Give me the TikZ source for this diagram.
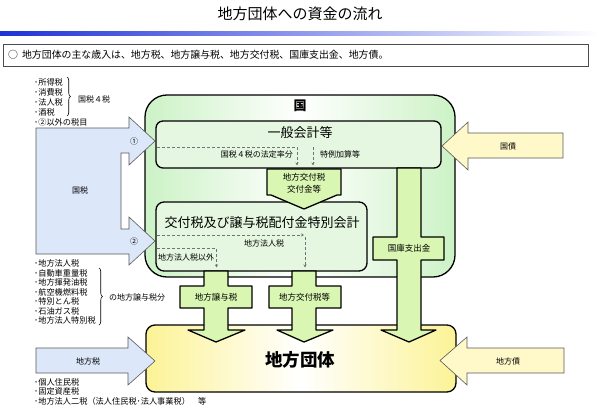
\documentclass[tikz,border=0pt]{standalone}
\usepackage{fontspec}
\setmainfont{Noto Sans CJK JP}
\usetikzlibrary{decorations.pathreplacing,arrows.meta}
\definecolor{bluefill}{RGB}{220,232,250}
\definecolor{greenarrow}{RGB}{217,246,178}
\definecolor{innerbox}{RGB}{229,247,224}
\definecolor{outergreen}{RGB}{204,242,198}
\definecolor{yellowfill}{RGB}{252,243,150}
\definecolor{yellowarrow}{RGB}{255,248,200}
\definecolor{titleblue}{RGB}{30,50,215}
\begin{document}
\begin{tikzpicture}[x=1pt,y=-1pt,
  outline/.style={draw=black,line width=1.3pt,line join=round},
  thinline/.style={draw=black!65,line width=0.6pt,line join=miter},
  lbl/.style={font=\fontsize{8}{9}\selectfont,inner sep=0pt},
  arrlbl/.style={font=\fontsize{8.5}{10}\selectfont,inner sep=0pt},
  bigtxt/.style={font=\fontsize{13}{15}\selectfont,inner sep=0pt},
  listitem/.style={font=\fontsize{8.2}{9}\selectfont,inner sep=0pt,anchor=west},
  dflow/.style={densely dashed,draw=black!55,line width=0.5pt,-{Stealth[length=3pt,width=3pt]}},
  bracestyle/.style={decorate,decoration={brace,amplitude=3.5pt},draw=black,line width=0.6pt},
  ]
\useasboundingbox (0,0) rectangle (599,415);

% title
\node[font=\fontsize{15}{17}\selectfont,inner sep=0pt] (title) at (300,14) {地方団体への資金の流れ};
\shade[left color=titleblue,right color=white] (0,31) rectangle (599,35);
\draw[black!70,line width=0.8pt] (3,44) rectangle (588,66);
\node[anchor=west,font=\fontsize{9.9}{11}\selectfont,inner sep=0pt] (summary) at (8,55) {○\hspace{4pt}地方団体の主な歳入は、地方税、地方譲与税、地方交付税、国庫支出金、地方債。};

% outer box 国
\draw[outline,left color=outergreen,right color=outergreen,middle color=white,rounded corners=22pt] (145,95) rectangle (455,277);
\node[font=\fontsize{13}{15}\selectfont\bfseries,inner sep=0pt] (kuni) at (300,106) {国};

% 国税 arrow
\draw[thinline,fill=bluefill] (36,128) -- (129,128) -- (129,117) -- (155,141) -- (129,165) -- (129,153) -- (121,153) -- (121,229) -- (129,229) -- (129,217) -- (155,241) -- (129,265) -- (129,254) -- (36,254) -- cycle;
\node[lbl] (kokuzei) at (80,190) {国税};
\node[lbl] (one) at (134,141) {①};
\node[lbl] (two) at (134,241) {②};

% 国債 arrow
\draw[thinline,fill=yellowarrow] (563,133) -- (468,133) -- (468,122) -- (442,146) -- (468,170) -- (468,158) -- (563,158) -- cycle;
\node[lbl] (kokusai) at (508,146) {国債};

% 一般会計等
\draw[outline,fill=innerbox,rounded corners=7pt] (156,121) rectangle (441,168);
\node[bigtxt] (ippan) at (300,133) {一般会計等};
\coordinate (d1s) at (157,147);
\coordinate (d1c) at (297,147);
\coordinate (d1e) at (297,165.5);
\coordinate (d2s) at (313,147);
\coordinate (d2e) at (313,165.5);
\draw[dflow] (d1s) -- (d1c) -- (d1e);
\draw[dflow] (d2s) -- (d2e);
\node[lbl,anchor=east] (houtei) at (293,154) {国税４税の法定率分};
\node[lbl,anchor=west] (tokurei) at (320,154) {特例加算等};

% 交付税及び譲与税配付金特別会計
\draw[outline,fill=innerbox,rounded corners=8pt] (156,202) rectangle (367,271);
\node[bigtxt] (tokubetsu) at (262,223) {交付税及び譲与税配付金特別会計};
\coordinate (d3s) at (157,235);
\coordinate (d3e) at (304,235);
\coordinate (d4s) at (305,237);
\coordinate (d4e) at (305,267.5);
\coordinate (d5s) at (157,248.5);
\coordinate (d5c) at (216.5,248.5);
\coordinate (d5e) at (216.5,267.5);
\draw[dflow] (d3s) -- (d3e);
\draw[dflow] (d4s) -- (d4e);
\draw[dflow] (d5s) -- (d5c) -- (d5e);
\node[lbl] (chihouhoujin) at (264,243.5) {地方法人税};
\node[lbl,anchor=west] (igai) at (158,257.5) {地方法人税以外};

% 地方交付税交付金等 arrow
\draw[outline,fill=greenarrow] (267,169) -- (341,169) -- (341,195) -- (337,195) -- (304,209) -- (271,195) -- (267,195) -- cycle;
\node[arrlbl] (koufu1) at (304,177) {地方交付税};
\node[arrlbl] (koufu2) at (304,189) {交付金等};

% 地方団体 box
\draw[outline,left color=yellowfill,right color=yellowfill,middle color=white,rounded corners=9pt] (146,325) rectangle (456,392);
\node[font=\fontsize{17.5}{20}\selectfont\bfseries,inner sep=0pt] (dantai) at (300,360) {地方団体};

% 国庫支出金 arrow
\draw[outline,fill=greenarrow] (397,168) -- (421,168) -- (421,237) -- (444,237) -- (444,260) -- (421,260) -- (421,330) -- (436,330) -- (409,342) -- (381,330) -- (397,330) -- (397,260) -- (373,260) -- (373,237) -- (397,237) -- cycle;
\node[arrlbl] (kokko) at (409,248.5) {国庫支出金};

% 地方譲与税 arrow
\draw[outline,fill=greenarrow] (204,271) -- (228,271) -- (228,286) -- (252,286) -- (252,308) -- (228,308) -- (228,330) -- (245,330) -- (216,342) -- (188,330) -- (204,330) -- (204,308) -- (180,308) -- (180,286) -- (204,286) -- cycle;
\node[arrlbl] (jouyo) at (216,297) {地方譲与税};

% 地方交付税等 arrow
\draw[outline,fill=greenarrow] (292,271) -- (316,271) -- (316,286) -- (341,286) -- (341,308) -- (316,308) -- (316,330) -- (333,330) -- (304,342) -- (277,330) -- (292,330) -- (292,308) -- (269,308) -- (269,286) -- (292,286) -- cycle;
\node[arrlbl] (koufuzei) at (304.5,297) {地方交付税等};

% 地方税 arrow
\draw[thinline,fill=bluefill] (36,348) -- (128,348) -- (128,337) -- (155,361) -- (128,385) -- (128,373) -- (36,373) -- cycle;
\node[lbl] (chihouzei) at (88,361) {地方税};

% 地方債 arrow
\draw[thinline,fill=yellowarrow] (564,348) -- (467,348) -- (467,337) -- (440,360.5) -- (467,385) -- (467,373) -- (564,373) -- cycle;
\node[lbl] (chihousai) at (508,361) {地方債};

% list 国税
\node[listitem] (l1) at (34,82) {･所得税};
\node[listitem] (l2) at (34,92) {･消費税};
\node[listitem] (l3) at (34,102) {･法人税};
\node[listitem] (l4) at (34,112) {･酒税};
\node[listitem] (l5) at (34,122) {･②以外の税目};
\coordinate (b1a) at (67,77);
\coordinate (b1b) at (67,116);
\draw[bracestyle] (b1a) -- (b1b);
\node[lbl,anchor=west] (yonzei) at (78,99) {国税４税};

% list 譲与税
\node[listitem] (m1) at (34,263) {･地方法人税};
\node[listitem] (m2) at (34,273) {･自動車重量税};
\node[listitem] (m3) at (34,282.5) {･地方揮発油税};
\node[listitem] (m4) at (34,292) {･航空機燃料税};
\node[listitem] (m5) at (34,301.5) {･特別とん税};
\node[listitem] (m6) at (34,311) {･石油ガス税};
\node[listitem] (m7) at (34,320.5) {･地方法人特別税};
\coordinate (b2a) at (99,268);
\coordinate (b2b) at (99,325);
\draw[bracestyle] (b2a) -- (b2b);
\node[lbl,anchor=west] (jouyobun) at (109,297.5) {の地方譲与税分};

% list 地方税
\node[listitem] (n1) at (34,382) {･個人住民税};
\node[listitem] (n2) at (34,391.5) {･固定資産税};
\node[listitem] (n3) at (34,401) {･地方法人二税（法人住民税･法人事業税）　等};
\end{tikzpicture}
\end{document}
